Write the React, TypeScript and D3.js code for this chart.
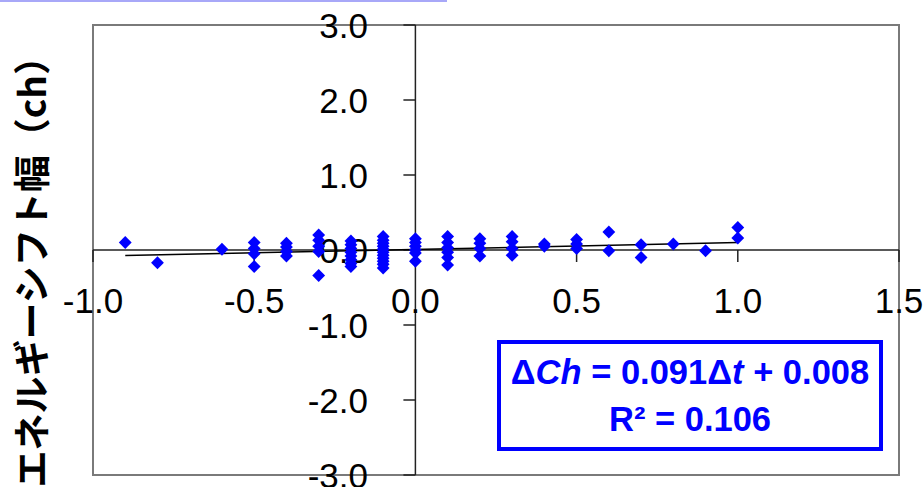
import React, { useEffect, useRef } from "react";
import * as d3 from "d3";

// Δt (x) positions and the Δch values measured at each one
const columnX = [-0.9, -0.8, -0.6, -0.5, -0.4, -0.3, -0.2, -0.1, 0.0, 0.1, 0.2, 0.3, 0.4, 0.5, 0.6, 0.7, 0.8, 0.9, 1.0];
const columnValues = [
  [0.1],
  [-0.17],
  [0.01],
  [0.1, 0.02, -0.05, -0.22],
  [0.09, 0.04, -0.02, -0.08],
  [0.2, 0.13, 0.05, -0.02, -0.34],
  [0.12, 0.07, 0.02, -0.03, -0.08, -0.13, -0.18, -0.22],
  [0.18, 0.13, 0.09, 0.05, 0.01, -0.03, -0.07, -0.11, -0.15, -0.19, -0.24],
  [0.15, 0.1, 0.05, 0.0, -0.04, -0.15],
  [0.18, 0.1, 0.03, -0.03, -0.1, -0.2],
  [0.15, 0.09, 0.02, -0.08],
  [0.18, 0.11, 0.02, -0.07],
  [0.08, 0.05],
  [0.14, 0.08, 0.02],
  [0.24, -0.01],
  [0.07, -0.1],
  [0.08],
  [-0.01],
  [0.3, 0.16],
];

const xTicks = [-1.0, -0.5, 0.0, 0.5, 1.0, 1.5];
const yTicks = [-3.0, -2.0, -1.0, 0.0, 1.0, 2.0, 3.0];
const slope = 0.091;
const intercept = 0.008;
const rSquared = 0.106;
const fitRange = [-0.9, 1.0];
const yTitle = "エネルギーシフト幅（ch）";

const W = 923;
const H = 487;

const App = () => {
  const ref = useRef<SVGSVGElement>(null);

  useEffect(() => {
    const svg = d3.select(ref.current);
    svg.selectAll("*").remove();

    const left = 93, right = 899, top = 25, bottom = 475;
    const x = d3.scaleLinear().domain([-1.0, 1.5]).range([left, right]);
    const y = d3.scaleLinear().domain([-3.0, 3.0]).range([bottom, top]);

    svg.append("rect").attr("width", W).attr("height", H).attr("fill", "#fff");

    // faint line along top edge
    svg.append("line")
      .attr("x1", 0).attr("x2", 447).attr("y1", 1).attr("y2", 1)
      .attr("stroke", "#a8a8f8").attr("stroke-width", 2);

    // plot area border
    svg.append("rect")
      .attr("x", left).attr("y", top)
      .attr("width", right - left).attr("height", bottom - top)
      .attr("fill", "none").attr("stroke", "#7a7a7a").attr("stroke-width", 2);

    const font = "'Liberation Sans', Arial, sans-serif";

    // axes through the origin
    const x0 = x(0), y0 = y(0);
    svg.append("line")
      .attr("x1", left).attr("x2", right).attr("y1", y0).attr("y2", y0)
      .attr("stroke", "#222").attr("stroke-width", 1.5);
    svg.append("line")
      .attr("x1", x0).attr("x2", x0).attr("y1", top).attr("y2", bottom)
      .attr("stroke", "#222").attr("stroke-width", 1.5);

    svg.selectAll(".xt").data(xTicks).enter().append("line")
      .attr("x1", d => x(d)).attr("x2", d => x(d))
      .attr("y1", y0).attr("y2", y0 + 12)
      .attr("stroke", "#222").attr("stroke-width", 1.5);
    svg.selectAll(".yt").data(yTicks).enter().append("line")
      .attr("x1", x0 - 12).attr("x2", x0)
      .attr("y1", d => y(d)).attr("y2", d => y(d))
      .attr("stroke", "#222").attr("stroke-width", 1.5);

    svg.selectAll(".xl").data(xTicks).enter().append("text")
      .attr("x", d => x(d)).attr("y", 313)
      .attr("text-anchor", "middle")
      .attr("font-family", font).attr("font-size", 35).attr("fill", "#000")
      .text(d => d.toFixed(1));
    svg.selectAll(".yl").data(yTicks).enter().append("text")
      .attr("x", 368).attr("y", d => y(d))
      .attr("dy", "0.36em")
      .attr("text-anchor", "end")
      .attr("font-family", font).attr("font-size", 35).attr("fill", "#000")
      .text(d => d.toFixed(1));

    // trend line
    const line = d3.line<number>().x(d => x(d)).y(d => y(slope * d + intercept));
    svg.append("path")
      .attr("d", line(fitRange))
      .attr("fill", "none").attr("stroke", "#000").attr("stroke-width", 1.5);

    // points
    const points = columnX.flatMap((cx, i) => columnValues[i].map(v => ({ cx, v })));
    const diamond = d3.symbol().type(d3.symbolDiamond2).size(105);
    svg.selectAll(".pt").data(points).enter().append("path")
      .attr("d", diamond)
      .attr("transform", d => `translate(${x(d.cx)},${y(d.v)})`)
      .attr("fill", "#0000ff");

    // equation box
    svg.append("rect")
      .attr("x", 499).attr("y", 342).attr("width", 382).attr("height", 107)
      .attr("fill", "#fff").attr("stroke", "#0000ff").attr("stroke-width", 4);
    const eq = svg.append("text")
      .attr("x", 690).attr("y", 384).attr("text-anchor", "middle")
      .attr("font-family", font).attr("font-weight", "bold")
      .attr("font-size", 34.5).attr("fill", "#0000ff");
    eq.append("tspan").text("Δ");
    eq.append("tspan").attr("font-style", "italic").text("Ch");
    eq.append("tspan").text(` = ${slope}Δ`);
    eq.append("tspan").attr("font-style", "italic").text("t");
    eq.append("tspan").text(` + ${intercept.toFixed(3)}`);
    svg.append("text")
      .attr("x", 690).attr("y", 431).attr("text-anchor", "middle")
      .attr("font-family", font).attr("font-weight", "bold")
      .attr("font-size", 34.5).attr("fill", "#0000ff")
      .text(`R² = ${rSquared}`);

    // y axis title
    svg.append("text")
      .attr("transform", "translate(30,38) rotate(-90)")
      .attr("text-anchor", "end")
      .attr("dominant-baseline", "central")
      .attr("font-family", "'Noto Sans CJK JP', sans-serif")
      .attr("font-weight", "bold").attr("font-size", 37).attr("fill", "#000")
      .text(yTitle);
  }, []);

  return (
    <svg ref={ref} width={W} height={H} style={{ position: "absolute", left: 0, top: 0 }} />
  );
};

export default App;
